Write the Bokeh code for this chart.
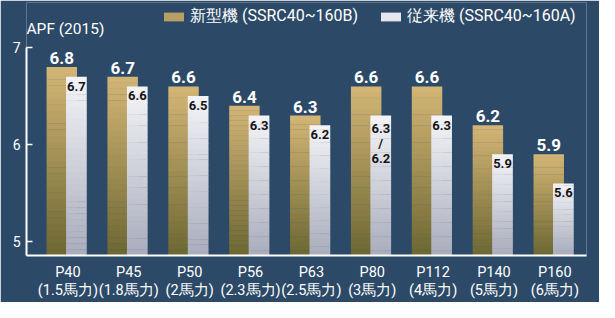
import numpy as np
from bokeh.plotting import figure
from bokeh.models import ColumnDataSource, Range1d, FixedTicker, Legend, LegendItem, Label
from bokeh.core.properties import value
from bokeh.embed import file_html
from bokeh.resources import INLINE

# ---- data ----
models = ["P40", "P45", "P50", "P56", "P63", "P80", "P112", "P140", "P160"]
horsepower = ["1.5馬力", "1.8馬力", "2馬力", "2.3馬力", "2.5馬力", "3馬力", "4馬力", "5馬力", "6馬力"]
new_apf = [6.8, 6.7, 6.6, 6.4, 6.3, 6.6, 6.6, 6.2, 5.9]
old_apf = [6.7, 6.6, 6.5, 6.3, 6.2, 6.3, 6.3, 5.9, 5.6]
new_labels = ["6.8", "6.7", "6.6", "6.4", "6.3", "6.6", "6.6", "6.2", "5.9"]
old_labels = ["6.7", "6.6", "6.5", "6.3", "6.2", "6.3\n/\n6.2", "6.3", "5.9", "5.6"]
y_ticks = [5, 6, 7]
series_names = ["新型機 (SSRC40~160B)", "従来機 (SSRC40~160A)"]
y_title = "APF (2015)"

# ---- style ----
BG = "#2c4a67"
FONT = "Roboto"
Y0, Y1 = 4.857, 7.465
GOLD_BOTTOM, GOLD_TOP = (108, 103, 50), (212, 182, 118)
WHITE_BOTTOM, WHITE_TOP = (168, 172, 188), (244, 244, 248)
NSEG = 30

x = np.arange(len(models))


def hexcol(c0, c1, t):
    c = [int(round(a + (b - a) * t)) for a, b in zip(c0, c1)]
    return "#%02x%02x%02x" % tuple(c)


def gradient_source(xs, vals, c0, c1):
    xx, bot, top, col = [], [], [], []
    for xi, v in zip(xs, vals):
        for k in range(NSEG):
            b = Y0 + (v - Y0) * k / NSEG
            t = Y0 + (v - Y0) * (k + 1) / NSEG
            xx.append(xi)
            bot.append(b)
            top.append(min(v, t + 0.004))
            col.append(hexcol(c0, c1, (k + 0.5) / NSEG))
    return ColumnDataSource(dict(x=xx, bottom=bot, top=top, color=col))


p = figure(width=599, height=302,
           x_range=Range1d(-0.68, 8.52), y_range=Range1d(Y0, Y1),
           output_backend="svg", toolbar_location=None,
           min_border_left=26, min_border_right=13, min_border_top=2, min_border_bottom=45)
p.background_fill_color = BG
p.border_fill_color = BG
p.outline_line_color = None
p.xgrid.grid_line_color = None
p.ygrid.grid_line_color = None

gold_src = gradient_source(x - 0.10, new_apf, GOLD_BOTTOM, GOLD_TOP)
white_src = gradient_source(x + 0.14, old_apf, WHITE_BOTTOM, WHITE_TOP)

r_gold = p.vbar(x="x", bottom="bottom", top="top", width=0.5, source=gold_src,
                fill_color="color", line_color=None)
r_white = p.vbar(x="x", bottom="bottom", top="top", width=0.34, source=white_src,
                 fill_color="color", line_color=None)

p.text(x=x - 0.10, y=new_apf, text=new_labels, text_align="center", text_baseline="bottom",
       y_offset=-3, text_color="white", text_font=value(FONT), text_font_style="bold",
       text_font_size="17px")
p.text(x=x + 0.14, y=old_apf, text=old_labels, text_align="center", text_baseline="top",
       y_offset=5, text_color="#151515", text_font=value(FONT), text_font_style="bold",
       text_font_size="13px", text_line_height=1.0)

# axes
yax = p.yaxis[0]
yax.ticker = FixedTicker(ticks=y_ticks)
yax.bounds = (Y0, 7)
yax.axis_line_color = "white"
yax.axis_line_width = 2
yax.major_tick_in = 6
yax.major_tick_out = 0
yax.major_tick_line_color = "white"
yax.major_tick_line_width = 1.5
yax.minor_tick_line_color = None
yax.major_label_text_color = "white"
yax.major_label_text_font = FONT
yax.major_label_text_font_size = "14px"
yax.major_label_standoff = 6

xax = p.xaxis[0]
xax.ticker = FixedTicker(ticks=list(x))
xax.major_label_overrides = {int(i): f"{m}\n({h})" for i, m, h in zip(x, models, horsepower)}
xax.axis_line_color = "white"
xax.axis_line_width = 2
xax.major_tick_line_color = None
xax.major_tick_in = 0
xax.major_tick_out = 0
xax.minor_tick_line_color = None
xax.major_label_text_color = "white"
xax.major_label_text_font = FONT
xax.major_label_text_font_size = "14.5px"
xax.major_label_text_line_height = 1.1
xax.major_label_standoff = 8

legend = Legend(items=[LegendItem(label=series_names[0], renderers=[r_gold], index=int(NSEG * 0.7)),
                       LegendItem(label=series_names[1], renderers=[r_white], index=int(NSEG * 0.8))],
                orientation="horizontal", location=(135, 228))
legend.background_fill_alpha = 0
legend.border_line_color = None
legend.label_text_color = "white"
legend.label_text_font = FONT
legend.label_text_font_size = "16px"
legend.glyph_width = 25
legend.glyph_height = 11
legend.label_standoff = 4
legend.spacing = 20
legend.padding = 0
legend.margin = 0
legend.label_height = 14
p.add_layout(legend)

p.add_layout(Label(x=0, y=227, x_units="screen", y_units="screen", text=y_title,
                   anchor="center_left", text_color="white",
                   text_font=FONT, text_font_size="15.5px"))

open("out.html", "w").write(file_html(p, INLINE))
